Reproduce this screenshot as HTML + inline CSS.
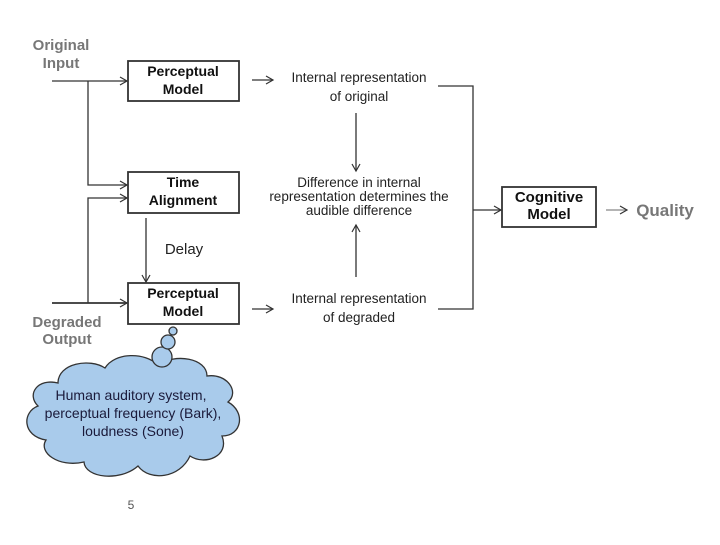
<!DOCTYPE html>
<html><head><style>
body{margin:0;background:#fff;}
svg text{font-family:"Liberation Sans",Arial,sans-serif;}
</style></head><body>
<svg width="720" height="540" viewBox="0 0 720 540" xmlns="http://www.w3.org/2000/svg">
<defs>
<marker id="a" markerWidth="10" markerHeight="10" refX="8" refY="5" orient="auto" markerUnits="userSpaceOnUse">
<path d="M1,1 L8,5 L1,9" fill="none" stroke="#333" stroke-width="1.2"/>
</marker>
</defs>
<g stroke="#333" stroke-width="1.3" fill="none">
<rect x="128" y="61" width="111" height="40" stroke-width="1.8"/>
<rect x="128" y="172" width="111" height="41" stroke-width="1.8"/>
<rect x="128" y="283" width="111" height="41" stroke-width="1.8"/>
<rect x="502" y="187" width="94" height="40" stroke-width="1.8"/>
<line x1="52" y1="81" x2="127" y2="81" marker-end="url(#a)"/>
<polyline points="88,81 88,185 127,185" marker-end="url(#a)"/>
<line x1="52" y1="303" x2="127" y2="303" stroke-width="1.8" marker-end="url(#a)"/>
<polyline points="88,303 88,198 127,198" marker-end="url(#a)"/>
<line x1="146" y1="218" x2="146" y2="282" marker-end="url(#a)"/>
<line x1="252" y1="80" x2="273" y2="80" marker-end="url(#a)"/>
<line x1="252" y1="309" x2="273" y2="309" marker-end="url(#a)"/>
<line x1="356" y1="113" x2="356" y2="171" marker-end="url(#a)"/>
<line x1="356" y1="277" x2="356" y2="225" marker-end="url(#a)"/>
<polyline points="438,86 473,86 473,309 438,309"/>
<line x1="473" y1="210" x2="501" y2="210" marker-end="url(#a)"/>
<line x1="606" y1="210" x2="627" y2="210" stroke="#888" marker-end="url(#a)"/>
</g>
<g fill="#777" font-size="15" font-weight="bold" text-anchor="middle">
<text x="61" y="50">Original</text><text x="61" y="68">Input</text>
<text x="67" y="327">Degraded</text><text x="67" y="344">Output</text>
<text x="665" y="216" font-size="17">Quality</text>
</g>
<g fill="#111" font-size="14" font-weight="bold" text-anchor="middle">
<text x="183" y="76">Perceptual</text><text x="183" y="94">Model</text>
<text x="183" y="187">Time</text><text x="183" y="205">Alignment</text>
<text x="183" y="298">Perceptual</text><text x="183" y="316">Model</text>
<text x="549" y="202" font-size="15">Cognitive</text><text x="549" y="219" font-size="15">Model</text>
</g>
<g fill="#222" font-size="13.5" text-anchor="middle">
<text x="359" y="82">Internal representation</text><text x="359" y="101">of original</text>
<text x="359" y="187">Difference in internal</text>
<text x="359" y="201">representation determines the</text>
<text x="359" y="215">audible difference</text>
<text x="359" y="303">Internal representation</text><text x="359" y="322">of degraded</text>
<text x="184" y="254" font-size="15">Delay</text>
</g>
<g fill="#a9cbeb" stroke="#333" stroke-width="1.3">
<path d="M58,383 C58,363 90,358 105,368 C115,352 145,352 158,365 C175,353 207,358 207,376 C227,373 240,392 228,402 C246,412 242,436 222,436 C230,456 205,466 190,456 C180,478 150,482 138,466 C120,482 85,478 84,462 C58,468 38,452 46,440 C22,436 22,412 38,406 C26,394 38,378 58,383 Z"/>
<circle cx="162" cy="357" r="10"/>
<circle cx="168" cy="342" r="7"/>
<circle cx="173" cy="331" r="4"/>
</g>
<g fill="#1a1a3a" font-size="14" text-anchor="middle">
<text x="131" y="400">Human auditory system,</text>
<text x="133" y="418">perceptual frequency (Bark),</text>
<text x="133" y="436">loudness (Sone)</text>
</g>
<text x="131" y="509" font-size="12" fill="#555" text-anchor="middle">5</text>
</svg>
</body></html>
